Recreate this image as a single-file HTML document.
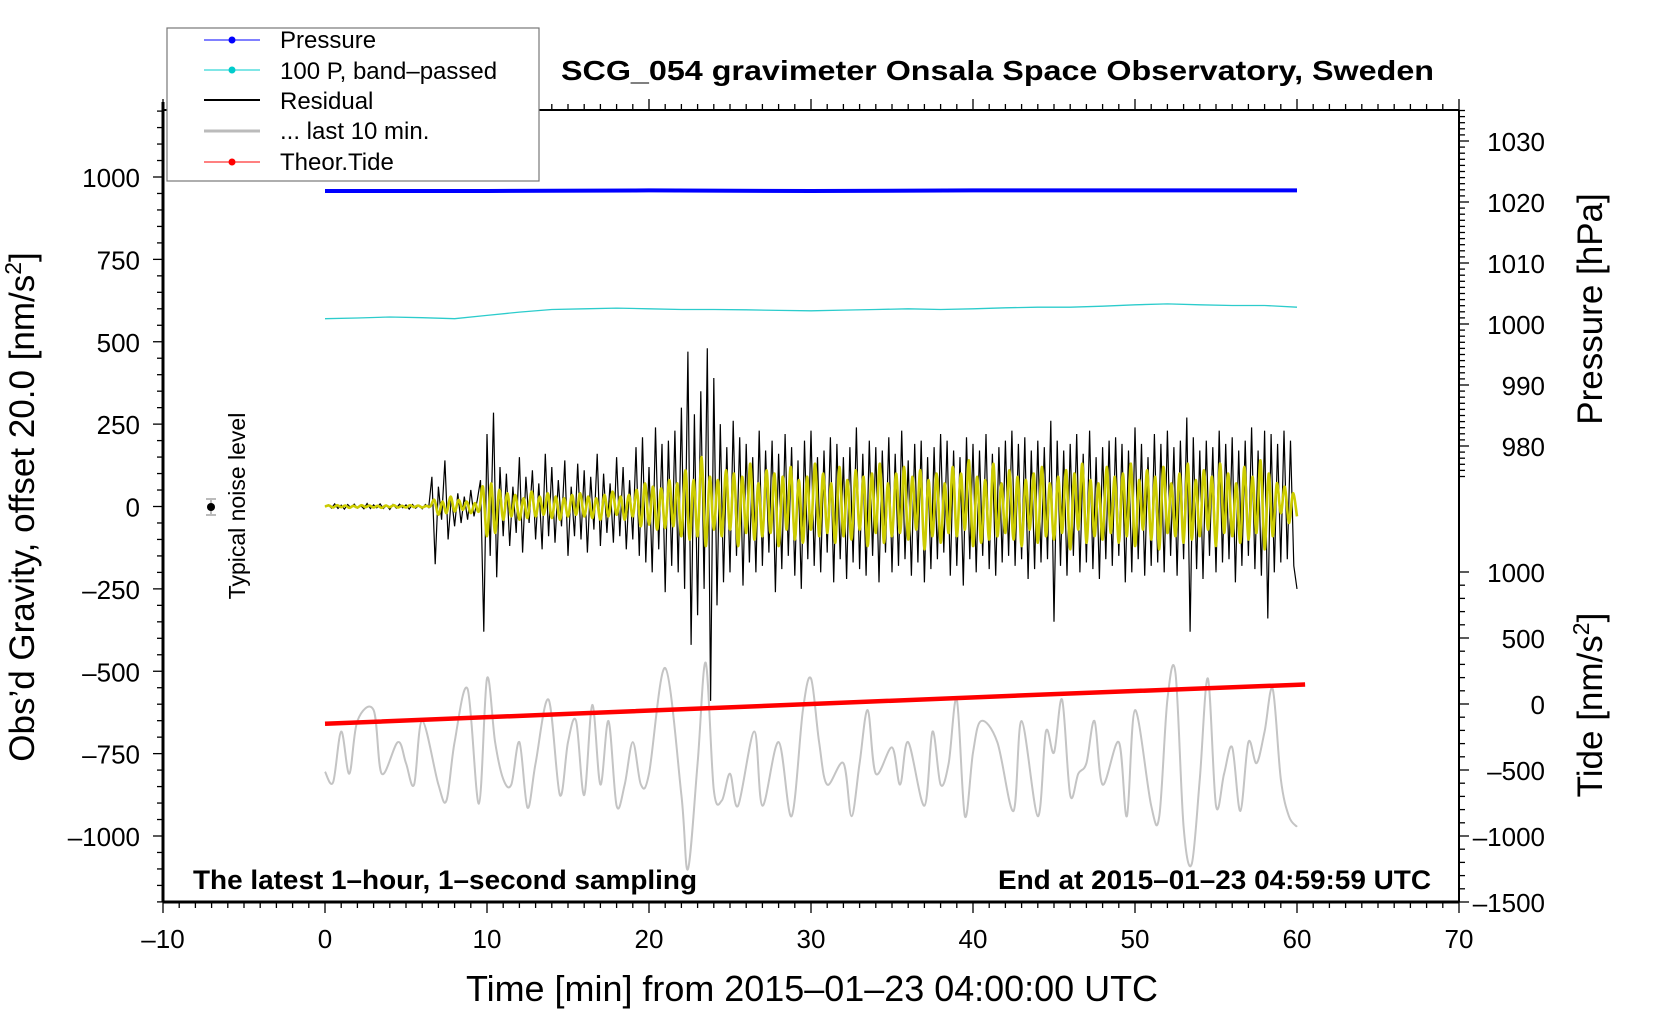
<!DOCTYPE html>
<html><head><meta charset="utf-8"><style>
html,body{margin:0;padding:0;background:#fff;}
svg{display:block;font-family:"Liberation Sans",Arial,sans-serif;}
</style></head><body>
<svg id="chart" width="1660" height="1020" viewBox="0 0 1660 1020" xmlns="http://www.w3.org/2000/svg">
<rect x="0" y="0" width="1660" height="1020" fill="#fff"/>
<g id="series"></g>
<g id="axes"></g>
<text x="561" y="80" font-size="28" font-weight="bold" textLength="873" lengthAdjust="spacingAndGlyphs">SCG_054 gravimeter Onsala Space Observatory, Sweden</text>
<text x="193" y="889" font-size="27" font-weight="bold" textLength="504" lengthAdjust="spacingAndGlyphs">The latest 1–hour, 1–second sampling</text>
<text x="998" y="889" font-size="27" font-weight="bold" textLength="433" lengthAdjust="spacingAndGlyphs">End at 2015–01–23 04:59:59 UTC</text>
<text x="466" y="1001" font-size="36" textLength="692" lengthAdjust="spacingAndGlyphs">Time [min] from 2015–01–23 04:00:00 UTC</text>
<text transform="translate(34,507) rotate(-90)" font-size="35" text-anchor="middle">Obs’d Gravity, offset 20.0 [nm/s<tspan font-size="23" dy="-13">2</tspan><tspan dy="13">]</tspan></text>
<text transform="translate(1602,309) rotate(-90)" font-size="35" text-anchor="middle">Pressure [hPa]</text>
<text transform="translate(1602,705) rotate(-90)" font-size="35" text-anchor="middle">Tide [nm/s<tspan font-size="23" dy="-13">2</tspan><tspan dy="13">]</tspan></text>
<text transform="translate(245,506) rotate(-90)" font-size="23" text-anchor="middle">Typical noise level</text>
<g>
<line x1="211" y1="499" x2="211" y2="515" stroke="#bbb" stroke-width="2"/>
<line x1="206" y1="499" x2="216" y2="499" stroke="#bbb" stroke-width="2"/>
<line x1="206" y1="515" x2="216" y2="515" stroke="#bbb" stroke-width="2"/>
<circle cx="211" cy="507" r="4" fill="#000"/>
</g>
<g>
<rect x="167" y="28" width="372" height="153" fill="#fff" stroke="#777" stroke-width="1.2"/>
<g><line x1="204" y1="40" x2="260" y2="40" stroke="#00f" stroke-width="1"/><circle cx="232" cy="40" r="3.5" fill="#00f"/><text x="280" y="48" font-size="24">Pressure</text></g>
<g><line x1="204" y1="70" x2="260" y2="70" stroke="#0cc" stroke-width="1"/><circle cx="232" cy="70" r="3.5" fill="#0cc"/><text x="280" y="79" font-size="24">100 P, band–passed</text></g>
<g><line x1="204" y1="100" x2="260" y2="100" stroke="#000" stroke-width="2"/><text x="280" y="109" font-size="24">Residual</text></g>
<g><line x1="204" y1="131" x2="260" y2="131" stroke="#bbb" stroke-width="3"/><text x="280" y="139" font-size="24">... last 10 min.</text></g>
<g><line x1="204" y1="162" x2="260" y2="162" stroke="#f00" stroke-width="1"/><circle cx="232" cy="162" r="3.5" fill="#f00"/><text x="280" y="170" font-size="24">Theor.Tide</text></g>
</g>
</svg>
<script>
// ---- data ----
const pressureTimes = [0, 10, 20, 30, 40, 50, 60];
const pressureValues = [1021.8, 1021.8, 1021.9, 1021.8, 1021.9, 1021.9, 1021.9];
const cyanTimes = [0,2,4,6,8,10,12,14,16,18,20,22,24,26,28,30,32,34,36,38,40,42,44,46,48,50,52,54,56,58,60];
const cyanValues = [570,572,575,573,570,580,590,598,600,602,600,598,598,597,595,594,596,598,600,598,600,603,605,605,608,612,615,612,610,610,605];
const tideTimes = [0, 15, 30, 45, 60.5];
const tideValues = [-150, -75, 0, 75, 148];
const residualStep = 0.2;
const residualValues = [
0,5,-5,8,-6,4,-8,6,-4,7,-5,3,-7,9,-6,5,-4,8,-6,4,-9,6,-5,7,-4,5,-8,6,-5,4,-7,6,-3,
90,-175,60,-40,140,-100,30,-60,40,-50,30,-40,50,-30,20,
80,-380,220,-150,285,-215,120,-90,
100,-120,60,-80,150,-140,90,-50,110,-100,70,-130,160,-90,120,-110,80,-60,140,-150,60,-90,130,-100,110,-140,90,-70,160,-120,100,-80,70,-110,150,-90,120,-130,80,-100,
180,-150,210,-170,120,-200,240,-130,190,-260,200,-180,
230,-200,300,-250,470,-420,280,-330,350,-250,480,-590,390,-300,250,
-230,180,-200,260,-150,210,-240,190,-170,150,-200,230,-180,170,-140,200,-260,160,-190,220,
-150,180,-210,140,-250,200,-160,230,-180,150,-200,170,-140,210,-230,190,-160,150,-220,180,
-170,240,-190,160,-210,200,-150,180,-230,170,-140,210,-200,160,-180,230,-160,140,-210,190,
-170,200,-230,150,-190,180,-160,220,-140,200,-210,170,-180,150,-240,210,-160,190,-200,170,
-150,220,-190,160,-210,180,-170,200,-150,230,-180,190,-160,210,-220,170,-190,200,-170,180,
-160,260,-350,200,-180,170,-210,190,-150,220,-200,160,-170,230,-190,150,-220,180,-160,200,
-180,210,-150,190,-230,170,-200,240,-160,190,-210,150,-180,220,-170,190,-200,230,-150,180,
-210,200,-160,270,-380,210,-190,170,-220,200,-150,180,-200,230,-170,190,-160,210,-230,170,
-180,200,-150,240,-190,170,-210,230,-340,220,-200,190,-170,230,-160,200,-180,-250];
const bandStep = 0.25;
const bandValues = [
0,3,-3,4,-2,3,-4,2,-3,4,-2,3,-3,2,-4,3,-2,4,-3,2,-3,4,-2,3,-3,2,0,
20,-25,15,-20,30,-15,20,-10,15,-20,10,-15,
60,-90,70,-80,50,-40,
40,-30,35,-40,25,-35,45,-30,30,-25,40,-35,30,-40,25,-30,35,-25,40,-30,30,-35,25,-40,35,-30,45,-25,30,-40,35,-30,
50,-60,70,-55,60,-70,55,-65,80,-60,70,-90,
110,-100,80,-90,150,-120,90,-70,
80,-90,110,-70,100,-120,90,-80,130,-100,70,-90,110,-80,100,-120,90,-70,120,-100,
80,-110,90,-70,130,-90,100,-80,70,-110,120,-90,80,-100,110,-70,90,-120,100,-80,
130,-110,70,-90,100,-80,120,-100,90,-70,110,-130,80,-90,100,-110,70,-80,120,-90,
100,-70,140,-120,90,-110,80,-100,130,-90,70,-80,110,-100,90,-120,80,-70,100,-110,
120,-90,70,-100,90,-80,110,-130,100,-70,130,-110,80,-90,70,-100,120,-80,90,-110,
100,-90,130,-120,80,-70,110,-100,90,-130,120,-80,70,-90,100,-110,130,-100,80,-90,
110,-70,90,-120,130,-80,100,-90,70,-110,120,-100,90,-80,140,-130,100,-90,70,-20,
60,-50,40,-30];
const grayTimes = [0,0.5,1,1.5,2,3,3.5,4.5,5,5.5,6,7,7.5,8,8.8,9.5,10,10.5,11,11.5,12,12.5,13,13.8,14.5,15,15.5,16,16.5,17,17.5,18,18.5,19,19.5,20,21,22,22.4,23,23.5,24,24.5,25,25.5,26.5,27,28,28.8,29.5,30,30.5,31,32,32.5,33,33.5,34,35,35.5,36,37,37.5,38,38.5,39,39.5,40,40.5,41.5,42.5,43,44,44.5,45,45.5,46,46.5,47,47.5,48,49,49.5,50,51,51.5,52,52.5,53,53.5,54,54.5,55,55.5,56,56.5,57,57.5,58,58.5,59,59.5,60];
const grayValues = [-805,-837,-683,-811,-651,-618,-811,-715,-779,-844,-651,-844,-892,-715,-554,-902,-522,-715,-827,-844,-715,-914,-779,-586,-876,-715,-651,-876,-602,-844,-651,-908,-844,-715,-844,-811,-490,-876,-1101,-779,-474,-860,-892,-811,-908,-683,-908,-715,-940,-618,-522,-715,-844,-779,-940,-779,-618,-811,-731,-844,-715,-908,-683,-844,-779,-586,-940,-747,-651,-715,-924,-651,-940,-683,-747,-586,-876,-811,-779,-651,-844,-715,-940,-618,-908,-940,-586,-506,-972,-1085,-827,-522,-908,-811,-731,-924,-715,-779,-683,-554,-827,-940,-972];
const gravTicks = [1000,750,500,250,0,-250,-500,-750,-1000];
const xTicks = [-10,0,10,20,30,40,50,60,70];
const pressureTicks = [1030,1020,1010,1000,990,980];
const tideTicks = [1000,500,0,-500,-1000,-1500];

// ---- scales ----
const X0=163, X1=1459, Y0=110, Y1=902;
function xs(t){return X0+(t+10)/80*(X1-X0);}
function yg(v){return 506.5-v*0.3295;}
function yp(p){return 324-(p-1000)*6.1;}
function yt(v){return 704-v*0.132;}
const NS="http://www.w3.org/2000/svg";
function mk(tag,attrs,parent){const e=document.createElementNS(NS,tag);for(const k in attrs)e.setAttribute(k,attrs[k]);parent.appendChild(e);return e;}
const S=document.getElementById('series'), A=document.getElementById('axes');

function linePath(pts){return pts.map((p,i)=>(i?'L':'M')+p[0].toFixed(1)+' '+p[1].toFixed(1)).join('');}
function smoothPath(pts){let d='M'+pts[0][0]+' '+pts[0][1];for(let i=0;i<pts.length-1;i++){const p0=pts[Math.max(0,i-1)],p1=pts[i],p2=pts[i+1],p3=pts[Math.min(pts.length-1,i+2)];const c1=[p1[0]+(p2[0]-p0[0])/6,p1[1]+(p2[1]-p0[1])/6],c2=[p2[0]-(p3[0]-p1[0])/6,p2[1]-(p3[1]-p1[1])/6];d+='C'+c1[0].toFixed(1)+' '+c1[1].toFixed(1)+' '+c2[0].toFixed(1)+' '+c2[1].toFixed(1)+' '+p2[0].toFixed(1)+' '+p2[1].toFixed(1);}return d;}

let g=mk('path',{d:smoothPath(grayTimes.map((t,i)=>[xs(t),yg(grayValues[i])])),fill:'none',stroke:'#c4c4c4','stroke-width':2},S);


let r=mk('path',{d:linePath(residualValues.map((v,i)=>[xs(i*residualStep),yg(v)])),fill:'none',stroke:'#000','stroke-width':1.2},S);


let yl=mk('path',{d:smoothPath(bandValues.map((v,i)=>[xs(i*bandStep),yg(v)])),fill:'none',stroke:'#cccc00','stroke-width':2.6},S);


let c=mk('path',{d:linePath(cyanTimes.map((t,i)=>[xs(t),yg(cyanValues[i])])),fill:'none',stroke:'#2ccccc','stroke-width':1.3},S);


let p=mk('path',{d:linePath(pressureTimes.map((t,i)=>[xs(t),yp(pressureValues[i])])),fill:'none',stroke:'#0000ff','stroke-width':4},S);


let td=mk('path',{d:linePath(tideTimes.map((t,i)=>[xs(t),yt(tideValues[i])])),fill:'none',stroke:'#ff0000','stroke-width':4.5},S);



// ---- axes ----
mk('line',{x1:X0,y1:Y0,x2:X1,y2:Y0,stroke:'#000','stroke-width':2},A);
mk('line',{x1:X1,y1:Y0,x2:X1,y2:Y1,stroke:'#000','stroke-width':2},A);
mk('line',{x1:X0,y1:Y0-8,x2:X0,y2:Y1,stroke:'#000','stroke-width':3},A);
mk('line',{x1:X0,y1:Y1,x2:X1,y2:Y1,stroke:'#000','stroke-width':3},A);
for(let t=-10;t<=70;t++){const x=xs(t);const maj=t%10===0;
 mk('line',{x1:x,y1:Y1,x2:x,y2:Y1+(maj?11:6),stroke:'#000','stroke-width':1.3},A);
 mk('line',{x1:x,y1:Y0,x2:x,y2:Y0-(maj?11:6),stroke:'#000','stroke-width':1.3},A);}
xTicks.forEach(t=>{const e=mk('text',{x:xs(t),y:948,'font-size':26,'text-anchor':'middle'},A);e.textContent=String(t).replace('-','–');
 
 });
for(let v=-1200;v<=1200;v+=50){const y=yg(v);const maj=v%250===0;
 mk('line',{x1:X0,y1:y,x2:X0-(maj?10:6),y2:y,stroke:'#000','stroke-width':1.3},A);}
gravTicks.forEach(v=>{const e=mk('text',{x:140,y:yg(v)+10,'font-size':26,'text-anchor':'end'},A);e.textContent=String(v).replace('-','–');
 
 });
for(let pv=970;pv<=1035;pv++){const y=yp(pv);if(y<Y0||y>480)continue;const maj=pv%10===0;
 mk('line',{x1:X1,y1:y,x2:X1+(maj?10:6),y2:y,stroke:'#000','stroke-width':1.3},A);}
pressureTicks.forEach(v=>{const e=mk('text',{x:1545,y:yp(v)+10,'font-size':26,'text-anchor':'end'},A);e.textContent=String(v);
 
 });
for(let v=-1500;v<=1100;v+=100){const y=yt(v);if(y>Y1||y<560)continue;const maj=v%500===0;
 mk('line',{x1:X1,y1:y,x2:X1+(maj?10:6),y2:y,stroke:'#000','stroke-width':1.3},A);}
tideTicks.forEach(v=>{const e=mk('text',{x:1545,y:yt(v)+10,'font-size':26,'text-anchor':'end'},A);e.textContent=String(v).replace('-','–');
 
 });
</script>
</body></html>
